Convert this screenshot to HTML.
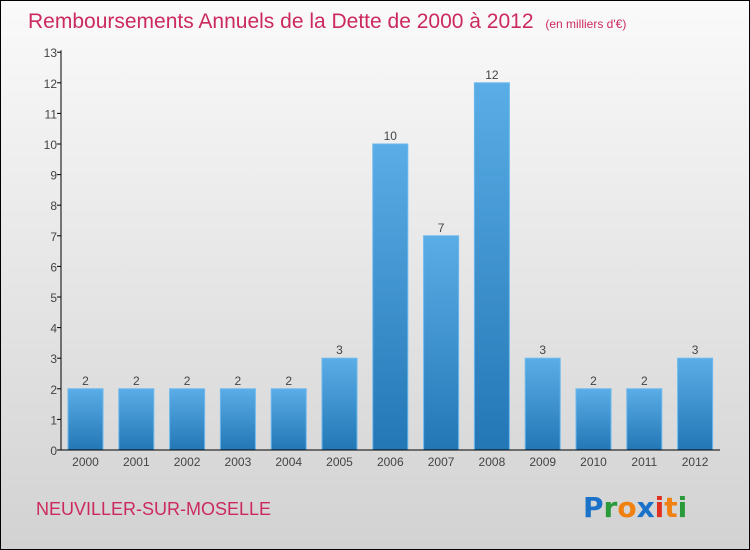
<!DOCTYPE html>
<html><head><meta charset="utf-8"><style>
body{margin:0;}
#c{position:relative;width:750px;height:550px;box-sizing:border-box;border:1px solid #000;background:linear-gradient(#fafafa,#d2d2d2);overflow:hidden;font-family:"Liberation Sans",sans-serif;}
</style></head><body>
<div id="c">
<svg id="s" width="750" height="550" style="position:absolute;left:-1px;top:-1px">
<defs><linearGradient id="g" x1="0" y1="0" x2="0" y2="1"><stop offset="0" stop-color="#5aade6"/><stop offset="1" stop-color="#2377b5"/></linearGradient></defs>
<text x="28" y="28" font-size="21" fill="#cc2a5e">Remboursements Annuels de la Dette de 2000 à 2012 <tspan font-size="12" dx="6">(en milliers d'€)</tspan></text>
<text x="36" y="515" font-size="18" fill="#cc2a5e">NEUVILLER-SUR-MOSELLE</text>
<g font-size="28" font-weight="bold" font-family="DejaVu Sans,sans-serif">
<text x="583" y="517"><tspan fill="#1a73c9">P</tspan><tspan fill="#2a9a3a">r</tspan><tspan fill="#f08010">o</tspan><tspan fill="#1a73c9">x</tspan><tspan fill="#e03020">i</tspan><tspan fill="#f08010">t</tspan><tspan fill="#2a9a3a">i</tspan></text></g>
<g id="plot"></g>
</svg>
</div>
<script>
const categories=["2000","2001","2002","2003","2004","2005","2006","2007","2008","2009","2010","2011","2012"];
const values=[2,2,2,2,2,3,10,7,12,3,2,2,3];
const yTicks=[0,1,2,3,4,5,6,7,8,9,10,11,12,13];
const NS="http://www.w3.org/2000/svg";
const p=document.getElementById('plot');
const x0=61,step=50.8,bw=35,y0=450,unit=30.6;
const X=i=>x0+7+i*step;
const Y=v=>y0-v*unit;
function mk(t,a){const e=document.createElementNS(NS,t);for(const k in a)e.setAttribute(k,a[k]);p.appendChild(e);return e;}
yTicks.forEach(v=>{
 const t=mk('line',{x1:x0-4,x2:x0,y1:Y(v),y2:Y(v),stroke:'#000'});
 
 
 const l=mk('text',{x:x0-4,y:Y(v)+5,'text-anchor':'end','font-size':12,fill:'#444'});
 l.textContent=v;
 
 
});
categories.forEach((c,i)=>{
 const v=values[i];
 const r=mk('rect',{x:X(i),y:Y(v),width:bw,height:v*unit,fill:'url(#g)',stroke:'#6bb8ee','stroke-width':1});
 
 
 const vl=mk('text',{x:X(i)+bw/2,y:Y(v)-4,'text-anchor':'middle','font-size':12,fill:'#444'});
 vl.textContent=v;
 
 
 const xl=mk('text',{x:X(i)+bw/2,y:466,'text-anchor':'middle','font-size':12,fill:'#444'});
 xl.textContent=c;
 
 
});
const ya=mk('line',{x1:x0,x2:x0,y1:Y(13)-2,y2:y0,stroke:'#000'});


const xa=mk('line',{x1:x0,x2:720,y1:y0,y2:y0,stroke:'#000'});


</script>
</body></html>
